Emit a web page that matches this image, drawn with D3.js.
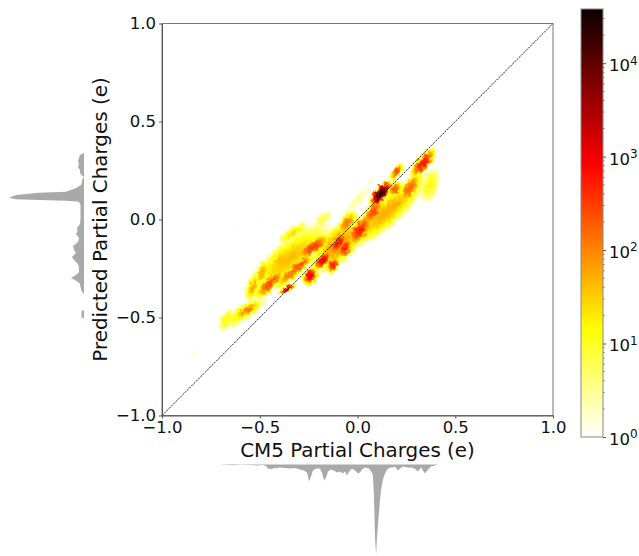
<!DOCTYPE html>
<html>
<head>
<meta charset="utf-8">
<script src="https://cdn.jsdelivr.net/npm/d3@7"></script>
<style>
body { margin: 0; background: #fff; }
text { font-family: "DejaVu Sans", sans-serif; fill: #111; }
</style>
</head>
<body>
<script>
// density blobs: centre, extents along / across, tilt, peak count
var blobX     = [.150,-.350,-.100,-.580,.119,.335,.200,.370,.268,.192,.200,.080,.013,-.054,-.100,-.064,-.228,-.176,-.125,-.180,-.330,-.396,-.294,0,.064,.437,-.610,-.500,-.448,-.534,-.488,-.396,-.330,-.243,-.360,-.565,-.668,-.846];
var blobY     = [.040,-.200,-.130,-.475,.134,.288,.243,.176,.160,.155,.074,.038,-.054,-.018,-.120,-.145,-.140,-.207,-.232,0,-.069,-.190,-.232,.100,.186,.370,-.054,-.020,-.324,-.344,-.273,-.207,-.268,-.288,-.355,-.462,-.513,-.681];
var blobLen   = [.290,.290,.200,.150,.085,.105,.056,.100,.105,.050,.085,.095,.105,.085,.085,.065,.120,.072,.050,.070,.095,.085,.090,.105,.040,.028,.020,.020,.120,.085,.078,.098,.140,.055,.055,.090,.070,.018];
var blobWid   = [.080,.095,.095,.042,.036,.038,.028,.050,.044,.034,.038,.044,.052,.042,.038,.042,.040,.036,.034,.034,.030,.048,.032,.028,.016,.010,.008,.008,.040,.034,.032,.048,.034,.040,.018,.030,.038,.012];
var blobAngle = [42,40,45,33,50,50,55,72,55,50,55,55,55,55,55,60,35,45,60,45,35,60,35,50,45,60,40,60,45,70,70,50,40,60,30,35,60,40];
var blobPeak  = [60,45,90,20,25000,700,300,14,180,220,70,280,550,130,700,550,320,1000,550,8,30,28,320,3,2,2,1.6,1.6,260,70,70,45,160,1300,1600,130,16,2.2];

// marginal histograms, relative counts
var histYBins = [.339,.329,.314,.298,.283,.268,.253,.237,.227,.217,.207,.191,.176,.161,.142,.137,.125,.111,.103,.099,.096,.091,.074,.038,.008,-.023,-.043,-.059,-.074,-.094,-.115,-.135,-.156,-.171,-.191,-.207,-.227,-.247,-.268,-.283,-.298,-.309,-.324,-.344,-.365,-.380,-.462,-.467,-.500,-.505];
var histYVals = [0,3,4,5,4,5,3,3,1.5,0,.5,1,2,7,17,44,67,74,67,44,17,4,2.5,2.5,2.5,3,6,5.5,7,4,5,10,9,7,11,9,5,4,4,7,12,8,3.5,2.5,1.5,0,0,1.5,1.5,0];
var histXBins = [-.693,-.627,-.601,-.550,-.509,-.488,-.468,-.458,-.442,-.422,-.396,-.371,-.345,-.320,-.294,-.274,-.258,-.248,-.238,-.228,-.212,-.192,-.182,-.171,-.161,-.151,-.136,-.120,-.105,-.090,-.074,-.064,-.054,-.043,-.028,-.013,.003,.013,.023,.038,.059,.074,.079,.084,.090,.095,.100,.105,.115,.120,.130,.141,.151,.166,.182,.192,.207,.217,.233,.258,.279,.299,.309,.325,.345,.361,.376,.396,.412];
var histXVals = [.3,.8,.3,.5,1,.6,1.5,4,4.5,3.5,3,3.5,4,3.5,5,6,8,17,12,6,4,4,8,16,13,7,5,6,8,7,9,7,11,7,4,6,9,8,5,3,4,8,12,30,75,90,72,60,35,26,15,9,5,3,3,2,6,4,2,3,3,5,7,3,9,5,2,1,0];

var axisTicks = [-1, -.5, 0, .5, 1];
var barTicks = [1, 10, 100, 1000, 10000];
var barMinor = [2,3,4,5,6,7,8,9,20,30,40,50,60,70,80,90,200,300,400,500,600,700,800,900,2000,3000,4000,5000,6000,7000,8000,9000,20000,30000];
var maxCount = 38000;

var svg = d3.select("body").append("svg")
  .attr("width", 639)
  .attr("height", 556);

var x = d3.scaleLinear().domain([-1, 1]).range([162, 553]);
var y = d3.scaleLinear().domain([-1, 1]).range([415.5, 23.5]);
var histLen = d3.scaleLinear().domain([0, 100]).range([0, 100]);

// hot_r colormap
var hot = d3.scaleLinear()
  .domain([0, .254, .635, 1])
  .range(["#ffffff", "#ffff00", "#ff0000", "#0b0000"]);
var logT = d3.scaleLog().domain([1, maxCount]).range([0, 1]);
var color = function (c) { return hot(logT(c)); };

var defs = svg.append("defs");
var rough = defs.append("filter").attr("id", "rough")
  .attr("x", 0).attr("y", 0).attr("width", 1).attr("height", 1)
  .attr("filterUnits", "objectBoundingBox");
rough.append("feTurbulence").attr("type", "fractalNoise").attr("baseFrequency", .25).attr("numOctaves", 2).attr("seed", 4).attr("result", "n");
rough.append("feDisplacementMap").attr("in", "SourceGraphic").attr("in2", "n").attr("scale", 5).attr("result", "d");
rough.append("feGaussianBlur").attr("in", "d").attr("stdDeviation", .6);

// density, painted from low to high count so the hot cores end up on top
var blobs = blobX.map(function (d, i) {
  return { x: d, y: blobY[i], len: blobLen[i], wid: blobWid[i], angle: blobAngle[i], peak: blobPeak[i] };
});
var levels = d3.range(0.1, Math.log10(maxCount), 0.1).map(function (e) { return Math.pow(10, e); });
var heat = svg.append("g").attr("filter", "url(#rough)");
heat.append("rect").attr("x", 162).attr("y", 23.5).attr("width", 391).attr("height", 392).attr("fill", "#fff");
levels.forEach(function (lev) {
  heat.selectAll(null)
    .data(blobs.filter(function (b) { return b.peak > lev; }))
    .enter().append("ellipse")
    .attr("transform", function (b) { return "translate(" + x(b.x) + "," + y(b.y) + ") rotate(" + (-b.angle) + ")"; })
    .attr("rx", function (b) { return (x(b.len) - x(0)) * Math.sqrt(1 - Math.log(lev) / Math.log(b.peak)); })
    .attr("ry", function (b) { return (x(b.wid) - x(0)) * Math.sqrt(1 - Math.log(lev) / Math.log(b.peak)); })
    .attr("fill", color(lev));
});

// diagonal
svg.append("line")
  .attr("x1", x(-1)).attr("y1", y(-1)).attr("x2", x(1)).attr("y2", y(1))
  .attr("stroke", "#111").attr("stroke-width", .9).attr("stroke-dasharray", "2.2,1");

// frame and axes
svg.append("rect")
  .attr("x", x(-1)).attr("y", y(1))
  .attr("width", x(1) - x(-1)).attr("height", y(-1) - y(1))
  .attr("fill", "none").attr("stroke", "#777");

var fmt = d3.format(".1f");
var xAxis = svg.append("g").attr("transform", "translate(0," + y(-1) + ")")
  .call(d3.axisBottom(x).tickValues(axisTicks).tickFormat(fmt).tickSize(3).tickPadding(3).tickSizeOuter(0));
var yAxis = svg.append("g").attr("transform", "translate(" + x(-1) + ",0)")
  .call(d3.axisLeft(y).tickValues(axisTicks).tickFormat(fmt).tickSize(3).tickPadding(3).tickSizeOuter(0));
[xAxis, yAxis].forEach(function (a) {
  a.selectAll("text").style("font-size", "16.5px").style("font-family", '"DejaVu Sans"');
  a.selectAll("path,line").attr("stroke", "#555");
});

svg.append("text").text("CM5 Partial Charges (e)")
  .attr("x", 357.5).attr("y", 457)
  .attr("text-anchor", "middle").style("font-size", "19.9px");
svg.append("text").text("Predicted Partial Charges (e)")
  .attr("transform", "translate(107,219.5) rotate(-90)")
  .attr("text-anchor", "middle").style("font-size", "19.9px");

// marginals
var histFill = "#a9a9a9";
svg.append("path")
  .datum(histYBins.map(function (d, i) { return [d, histYVals[i]]; }))
  .attr("fill", histFill)
  .attr("d", d3.area()
    .y(function (d) { return y(d[0]); })
    .x0(84)
    .x1(function (d) { return 82 - histLen(d[1]) + (d[1] > 0 ? 1 : 2); }));
svg.append("path")
  .datum(histXBins.map(function (d, i) { return [d, histXVals[i]]; }))
  .attr("fill", histFill)
  .attr("d", d3.area()
    .x(function (d) { return x(d[0]); })
    .y0(464.5)
    .y1(function (d) { return 464.5 + histLen(d[1]); }));

// colorbar
var bar = d3.scaleLog().domain([1, maxCount]).range([437, 9]);
var grad = defs.append("linearGradient").attr("id", "hotbar")
  .attr("x1", 0).attr("y1", 1).attr("x2", 0).attr("y2", 0);
[0, .254, .635, 1].forEach(function (t) {
  grad.append("stop").attr("offset", t).attr("stop-color", hot(t));
});
svg.append("rect")
  .attr("x", 581).attr("y", bar(maxCount))
  .attr("width", 22).attr("height", bar(1) - bar(maxCount))
  .attr("fill", "url(#hotbar)").attr("stroke", "#888");

var barAxis = svg.append("g").attr("transform", "translate(603,0)")
  .call(d3.axisRight(bar).tickValues(barTicks).tickSize(3).tickPadding(3).tickSizeOuter(0).tickFormat(""));
barAxis.select(".domain").remove();
barAxis.selectAll("line").attr("stroke", "#555");
barAxis.selectAll(".tick text").each(function (d) {
  var t = d3.select(this).style("font-size", "16.5px").style("font-family", '"DejaVu Sans"').attr("dy", "0.45em");
  t.append("tspan").text("10");
  t.append("tspan").text(Math.round(Math.log10(d))).attr("dy", "-0.55em").style("font-size", "12px");
});
svg.append("g").selectAll("line").data(barMinor).enter().append("line")
  .attr("x1", 603).attr("x2", 604.5)
  .attr("y1", function (d) { return bar(d); }).attr("y2", function (d) { return bar(d); })
  .attr("stroke", "#777");
</script>
</body>
</html>
